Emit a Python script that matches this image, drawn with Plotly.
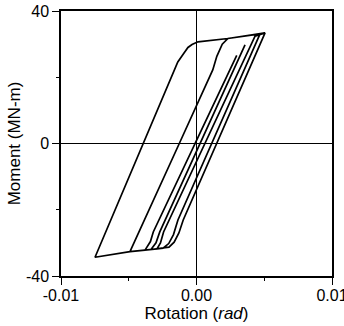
import plotly.graph_objects as go

# Hysteresis path: rotation (rad) and moment (MN-m)
rotation = [
    -0.00011, 0.00297,
    -0.00011, -0.00319, -0.00340, -0.00365, -0.00380,
    -0.00336, -0.00299, -0.00271, 0.00358,
    -0.00271, -0.00299, -0.00336,
    -0.00292, -0.00266, -0.00243, 0.00432, 0.00506,
    -0.00098, -0.00130, -0.00165, -0.00203,
    -0.00247, -0.00292, -0.00336, -0.00380, -0.00491,
    -0.00127, 0.00120, 0.00150, 0.00190, 0.00232, 0.00469,
    -0.00137, -0.00170, -0.00205, -0.00247,
    -0.00292, -0.00380, -0.00491, -0.00749,
    -0.00393, -0.00138, -0.00092, -0.00063, -0.00033, 0.00011,
    0.00232, 0.00469, 0.00506,
]
moment = [
    0.0, 26.6,
    0.0, -26.7, -29.6, -31.5, -32.2,
    -32.0, -30.0, -26.7, 29.8,
    -26.7, -30.0, -32.0,
    -31.8, -30.0, -26.7, 32.4, 33.4,
    -23.1, -27.0, -29.8, -31.3,
    -31.6, -31.8, -32.0, -32.2, -32.66,
    0.0, 22.2, 26.3, 30.0, 31.7, 33.1,
    -23.1, -27.5, -30.2, -31.6,
    -31.8, -32.2, -32.66, -34.35,
    0.0, 24.6, 27.3, 29.0, 29.9, 30.7,
    31.7, 33.1, 33.4,
]

x_tickvals = [-0.01, 0.0, 0.01]
x_ticktext = ["-0.01", "0.00", "0.01"]
y_tickvals = [-40, 0, 40]
y_ticktext = ["-40", "0", "40"]

fig = go.Figure()
fig.add_trace(go.Scatter(
    x=rotation, y=moment, mode="lines",
    line=dict(color="black", width=1.7),
    showlegend=False, hoverinfo="skip",
))

tick_font = dict(family="Liberation Sans, Arial, sans-serif", size=16, color="black")
title_font = dict(family="Liberation Sans, Arial, sans-serif", size=17, color="black")

fig.update_layout(
    width=344, height=326,
    margin=dict(l=61, r=12, t=11, b=50),
    paper_bgcolor="white", plot_bgcolor="white",
    font=tick_font,
    xaxis=dict(
        range=[-0.01, 0.01],
        tickvals=x_tickvals, ticktext=x_ticktext,
        ticks="outside", ticklen=7, tickwidth=1.3, tickcolor="black",
        minor=dict(tickvals=[-0.005, 0.005], ticks="outside", ticklen=3,
                   tickwidth=1.3, tickcolor="black"),
        showline=True, linecolor="black", linewidth=1.5, mirror=True,
        showgrid=False,
        zeroline=True, zerolinecolor="black", zerolinewidth=1.2,
        title=dict(text="Rotation (<i>rad</i>)", font=title_font, standoff=0),
        tickfont=tick_font, automargin=False,
        ticklabeloverflow="allow", ticklabelstandoff=-3,
    ),
    yaxis=dict(
        range=[-40, 40],
        tickvals=y_tickvals, ticktext=y_ticktext,
        ticks="outside", ticklen=7, tickwidth=1.3, tickcolor="black",
        minor=dict(tickvals=[-20, 20], ticks="outside", ticklen=3,
                   tickwidth=1.3, tickcolor="black"),
        showline=True, linecolor="black", linewidth=1.5, mirror=True,
        showgrid=False,
        zeroline=True, zerolinecolor="black", zerolinewidth=1.2,
        title=dict(text="Moment (MN-m)", font=title_font, standoff=1),
        tickfont=tick_font, automargin=False,
    ),
)

fig.write_html("out.html")
